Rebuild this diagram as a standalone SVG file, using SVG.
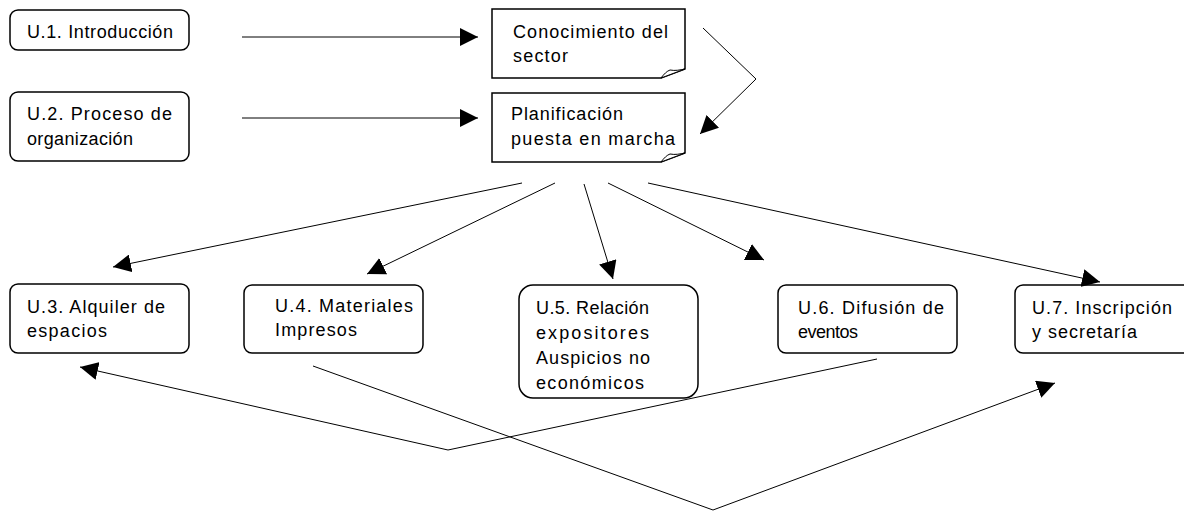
<svg xmlns="http://www.w3.org/2000/svg" width="1184" height="511" viewBox="0 0 1184 511">
<style>
.box{fill:#fff;stroke:#000;stroke-width:1.5}
.t{font-family:"Liberation Sans",Arial,sans-serif;font-size:18px;fill:#000}
.c{fill:none;stroke:#000;stroke-width:1}
.flap{fill:#fff;stroke:#000;stroke-width:1;stroke-linejoin:round}
</style>
<defs>
<marker id="ah" markerUnits="userSpaceOnUse" markerWidth="18" markerHeight="18" refX="18" refY="9" orient="auto" viewBox="0 0 18 18">
<path d="M0,0 L18,9 L0,18 Z" fill="#000"/>
</marker>
</defs>
<rect width="1184" height="511" fill="#fff"/>
<g id="u1"><rect class="box" x="10" y="10" width="179" height="40" rx="8"/>
<text class="t" x="27" y="38" textLength="146" lengthAdjust="spacing">U.1. Introducción</text></g>
<g id="u2"><rect class="box" x="10" y="92" width="179" height="69" rx="8"/>
<text class="t" x="27" y="120" textLength="145" lengthAdjust="spacing">U.2. Proceso de</text>
<text class="t" x="27" y="145" textLength="106" lengthAdjust="spacing">organización</text></g>
<g id="conocimiento"><path class="box" d="M492,9 H685 V69 L661,78 H492 Z"/>
<path class="flap" d="M661,78 C664,74 667,71 670,70 C675,71 680,70 685,69 Z"/>
<text class="t" x="513" y="38" textLength="155" lengthAdjust="spacing">Conocimiento del</text>
<text class="t" x="513" y="62" textLength="55" lengthAdjust="spacing">sector</text></g>
<g id="planificacion"><path class="box" d="M492,93 H685 V153 L661,162 H492 Z"/>
<path class="flap" d="M661,162 C664,158 667,155 670,154 C675,155 680,154 685,153 Z"/>
<text class="t" x="511" y="120" textLength="112" lengthAdjust="spacing">Planificación</text>
<text class="t" x="511" y="145" textLength="164" lengthAdjust="spacing">puesta en marcha</text></g>
<g id="u3"><rect class="box" x="10" y="284" width="179" height="69" rx="8"/>
<text class="t" x="27" y="313" textLength="138" lengthAdjust="spacing">U.3. Alquiler de</text>
<text class="t" x="27" y="337" textLength="80" lengthAdjust="spacing">espacios</text></g>
<g id="u4"><rect class="box" x="244" y="285" width="179" height="68" rx="8"/>
<text class="t" x="275" y="312" textLength="138" lengthAdjust="spacing">U.4. Materiales</text>
<text class="t" x="275" y="336" textLength="82" lengthAdjust="spacing">Impresos</text></g>
<g id="u5"><rect class="box" x="519" y="285" width="179" height="113" rx="14"/>
<text class="t" x="536" y="314" textLength="113" lengthAdjust="spacing">U.5. Relación</text>
<text class="t" x="536" y="339" textLength="113" lengthAdjust="spacing">expositores</text>
<text class="t" x="536" y="364" textLength="114" lengthAdjust="spacing">Auspicios no</text>
<text class="t" x="536" y="389" textLength="108" lengthAdjust="spacing">económicos</text></g>
<g id="u6"><rect class="box" x="778" y="285" width="179" height="68" rx="8"/>
<text class="t" x="798" y="314" textLength="146" lengthAdjust="spacing">U.6. Difusión de</text>
<text class="t" x="798" y="338" textLength="60" lengthAdjust="spacing">eventos</text></g>
<g id="u7"><rect class="box" x="1015" y="285" width="179" height="68" rx="8"/>
<text class="t" x="1032" y="314" textLength="140" lengthAdjust="spacing">U.7. Inscripción</text>
<text class="t" x="1032" y="338" textLength="105" lengthAdjust="spacing">y secretaría</text></g>
<g id="connectors">
<path class="c" d="M242,37 H478" marker-end="url(#ah)"/>
<path class="c" d="M242,118 H478" marker-end="url(#ah)"/>
<path class="c" d="M703,28 L756,79 L700,134" marker-end="url(#ah)"/>
<path class="c" d="M522,183 L113,267" marker-end="url(#ah)"/>
<path class="c" d="M555,183 L367,274" marker-end="url(#ah)"/>
<path class="c" d="M584,184 L613,279" marker-end="url(#ah)"/>
<path class="c" d="M608,183 L764,260" marker-end="url(#ah)"/>
<path class="c" d="M648,183 L1100,282" marker-end="url(#ah)"/>
<path class="c" d="M313,366 L713,510 L1055,383" marker-end="url(#ah)"/>
<path class="c" d="M877,359 L448,450 L80,367" marker-end="url(#ah)"/>
</g>
</svg>
